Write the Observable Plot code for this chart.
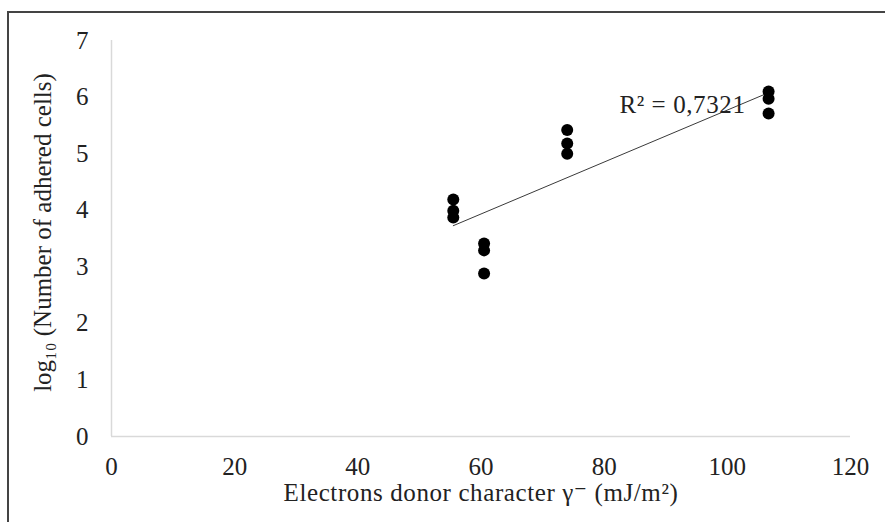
<!DOCTYPE html>
<html>
<head>
<meta charset="utf-8">
<script src="https://cdn.jsdelivr.net/npm/d3@7"></script>
<script src="https://cdn.jsdelivr.net/npm/@observablehq/plot@0.6"></script>
<style>
  html, body { margin: 0; padding: 0; background: #fff; }
  #wrap { position: relative; width: 885px; height: 522px; overflow: hidden; }
  #border { position: absolute; left: 7px; top: 11px; right: -10px; bottom: -10px;
            border-top: 2px solid #444; border-left: 2px solid #444; pointer-events: none; }
  .title text { letter-spacing: 0.6px; }
</style>
</head>
<body>
<div id="wrap"><div id="border"></div></div>
<script>
// Data
const donorGamma = [55.5, 55.5, 55.5, 60.5, 60.5, 60.5, 74, 74, 74, 106.7, 106.7, 106.7];
const logCells   = [4.19, 3.99, 3.87, 3.41, 3.29, 2.88, 5.42, 5.18, 5.00, 6.10, 5.97, 5.71];
const xTicks = [0, 20, 40, 60, 80, 100, 120];
const yTicks = [0, 1, 2, 3, 4, 5, 6, 7];
const xTitle = "Electrons donor character γ⁻ (mJ/m²)";
const yTitle = "log₁₀ (Number of adhered cells)";
const r2Label = "R² = 0,7321";

const data = donorGamma.map((x, i) => ({x, y: logCells[i]}));
const font = "'Liberation Serif', 'DejaVu Serif', serif";

const chart = Plot.plot({
  width: 885,
  height: 522,
  marginLeft: 111,
  marginRight: 35,
  marginTop: 40,
  marginBottom: 86,
  style: {fontFamily: font, fontSize: "24px", color: "#222", background: "transparent"},
  x: {domain: [0, 120], axis: null, label: null},
  y: {domain: [0, 7], axis: null, label: null},
  marks: [
    Plot.ruleX([0], {stroke: "#d9d9d9", strokeWidth: 1.5}),
    Plot.ruleY([0], {stroke: "#d9d9d9", strokeWidth: 1.5}),
    // tick labels drawn through the scales
    Plot.text(xTicks, {x: d => d, frameAnchor: "bottom", dy: 30, lineAnchor: "middle", textAnchor: "middle",
      fontSize: 25, fill: "#222", text: d => String(d)}),
    Plot.text(yTicks, {y: d => d, frameAnchor: "left", dx: -23, textAnchor: "end",
      fontSize: 25, fill: "#222", text: d => String(d)}),
    Plot.linearRegressionY(data, {x: "x", y: "y", ci: 0, stroke: "#3a3a3a", strokeWidth: 1}),
    Plot.dot(data, {x: "x", y: "y", r: 6, fill: "#000", stroke: "none"}),
    Plot.text([r2Label], {frameAnchor: "top-right", dx: -105, dy: 55, textAnchor: "end",
      fontSize: 25, fill: "#222", text: d => d, className: "title"}),
    Plot.text([xTitle], {frameAnchor: "bottom", dy: 64, textAnchor: "middle", fontSize: 25, fill: "#222", text: d => d, className: "title"}),
    Plot.text([yTitle], {frameAnchor: "left", dx: -69, dy: -6, rotate: -90, textAnchor: "middle", fontSize: 25, fill: "#222", text: d => d})
  ]
});
document.getElementById("wrap").prepend(chart);
</script>
</body>
</html>
